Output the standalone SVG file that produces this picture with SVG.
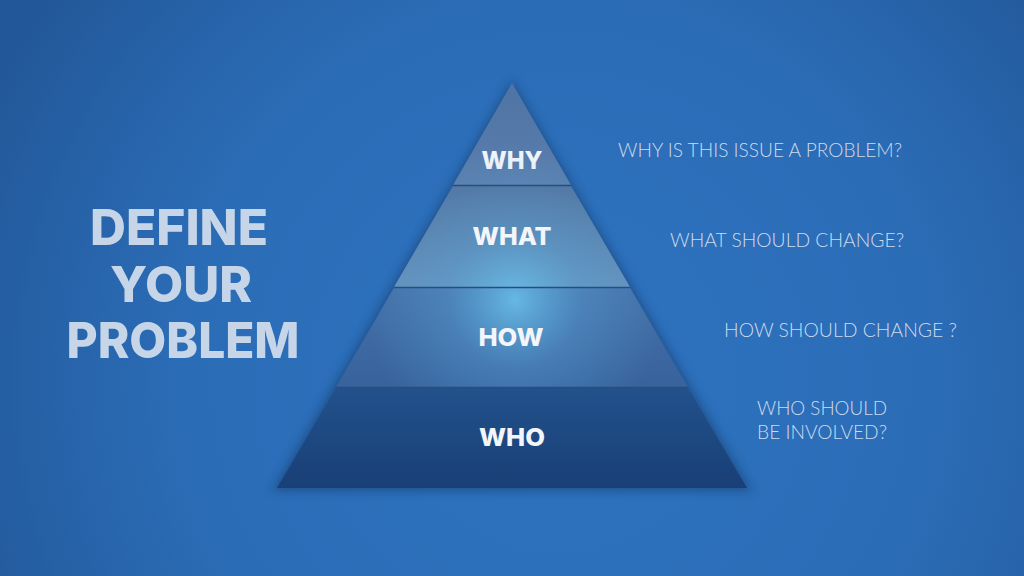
<svg xmlns="http://www.w3.org/2000/svg" width="1024" height="576" viewBox="0 0 1024 576">
<defs>
<radialGradient id="bg" cx="560" cy="380" r="640" gradientUnits="userSpaceOnUse">
<stop offset="0" stop-color="#2e73bf"/>
<stop offset="0.6" stop-color="#2b6cb6"/>
<stop offset="1" stop-color="#225899"/>
</radialGradient>
<linearGradient id="gWhy" x1="0" y1="83" x2="0" y2="185" gradientUnits="userSpaceOnUse">
<stop offset="0" stop-color="#4f74a4"/>
<stop offset="1" stop-color="#5a7fae"/>
</linearGradient>
<linearGradient id="gWhat" x1="0" y1="186" x2="0" y2="287" gradientUnits="userSpaceOnUse">
<stop offset="0" stop-color="#52739f"/>
<stop offset="1" stop-color="#6590ba"/>
</linearGradient>
<linearGradient id="gHow" x1="0" y1="288" x2="0" y2="387" gradientUnits="userSpaceOnUse">
<stop offset="0" stop-color="#4570a8"/>
<stop offset="1" stop-color="#38629c"/>
</linearGradient>
<linearGradient id="gWho" x1="0" y1="388" x2="0" y2="488" gradientUnits="userSpaceOnUse">
<stop offset="0" stop-color="#22518b"/>
<stop offset="1" stop-color="#193f76"/>
</linearGradient>
<radialGradient id="glow" cx="515" cy="300" r="150" gradientUnits="userSpaceOnUse">
<stop offset="0" stop-color="#6cc4ee" stop-opacity="0.85"/>
<stop offset="0.45" stop-color="#5aa8da" stop-opacity="0.35"/>
<stop offset="1" stop-color="#5aa8da" stop-opacity="0"/>
</radialGradient>
<clipPath id="pyrTop"><polygon points="512,83 688,387 336,387"/></clipPath>
<filter id="shadow" x="-20%" y="-20%" width="140%" height="140%">
<feGaussianBlur stdDeviation="5"/>
</filter>
</defs>
<style>
.tier{font-family:Inter,"Open Sans","Liberation Sans",sans-serif;font-weight:800;font-size:24px;fill:#f2f5fa;text-anchor:middle}
.title{font-family:Inter,"Open Sans","Liberation Sans",sans-serif;font-weight:800;font-size:49px;fill:#c6d6e8;text-anchor:middle}
.q{font-family:Lato,"Open Sans",sans-serif;font-weight:300;font-size:19px;fill:#ccdbee}
.div{stroke:#2b4c7c;stroke-width:1.5}
</style>
<rect width="1024" height="576" fill="url(#bg)"/>
<g id="title">
<text class="title" x="179" y="245" textLength="178" lengthAdjust="spacingAndGlyphs">DEFINE</text>
<text class="title" x="181" y="302" textLength="142" lengthAdjust="spacingAndGlyphs">YOUR</text>
<text class="title" x="183" y="358" textLength="233" lengthAdjust="spacingAndGlyphs">PROBLEM</text>
</g>
<polygon points="512,80 752,491 272,491" fill="#163a6c" opacity="0.55" filter="url(#shadow)"/>
<g id="tier-why">
<polygon points="512,83 571,185 453,185" fill="url(#gWhy)"/>
<text class="tier" x="512" y="169" textLength="61" lengthAdjust="spacingAndGlyphs">WHY</text>
</g>
<g id="tier-what">
<polygon points="453,186 571,186 630,287 394,287" fill="url(#gWhat)"/>
</g>
<g id="tier-how">
<polygon points="394,288 630,288 688,387 336,387" fill="url(#gHow)"/>
</g>
<g id="tier-who">
<polygon points="336,388 688,388 747,488 277,488" fill="url(#gWho)"/>
</g>
<rect x="270" y="80" width="490" height="410" fill="url(#glow)" clip-path="url(#pyrTop)"/>
<g id="dividers">
<line class="div" x1="453" y1="185.5" x2="571" y2="185.5"/>
<line class="div" x1="394" y1="287.5" x2="630" y2="287.5"/>
<line class="div" x1="336" y1="387.5" x2="688" y2="387.5"/>
</g>
<g id="tier-labels">
<text class="tier" x="512" y="245" textLength="79" lengthAdjust="spacingAndGlyphs">WHAT</text>
<text class="tier" x="511" y="346" textLength="65" lengthAdjust="spacingAndGlyphs">HOW</text>
<text class="tier" x="512" y="446" textLength="66" lengthAdjust="spacingAndGlyphs">WHO</text>
</g>
<g id="questions">
<text class="q" x="618" y="157" textLength="284" lengthAdjust="spacingAndGlyphs">WHY IS THIS ISSUE A PROBLEM?</text>
<text class="q" x="670" y="247" textLength="234" lengthAdjust="spacingAndGlyphs">WHAT SHOULD CHANGE?</text>
<text class="q" x="724" y="337" textLength="233" lengthAdjust="spacingAndGlyphs">HOW SHOULD CHANGE ?</text>
<text class="q" x="757" y="415" textLength="130" lengthAdjust="spacingAndGlyphs">WHO SHOULD</text>
<text class="q" x="757" y="439" textLength="130" lengthAdjust="spacingAndGlyphs">BE INVOLVED?</text>
</g>
</svg>
